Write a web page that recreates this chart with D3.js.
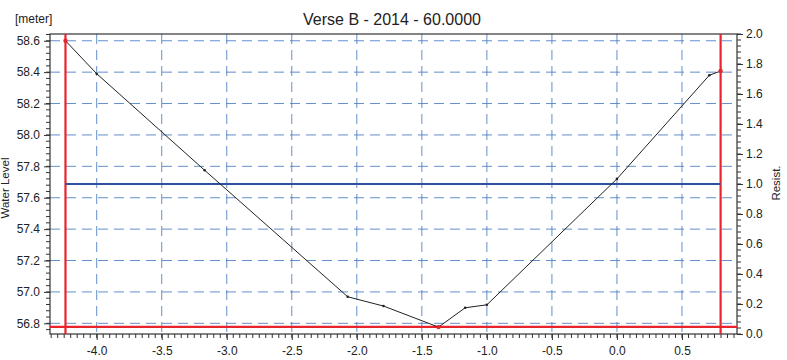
<!DOCTYPE html>
<html>
<head>
<meta charset="utf-8">
<script src="https://cdn.jsdelivr.net/npm/d3@7"></script>
<style>
  body { margin: 0; background: #fff; }
  svg { display: block; font-family: "Liberation Sans", Arial, sans-serif; }
  .tick text { font-size: 12px; fill: #222; }
</style>
</head>
<body>
<div id="chart"></div>
<script>
// profile points: distance -> water level
const distance = [-4.24, -4.0, -3.17, -2.07, -1.795, -1.372, -1.167, -1.0, 0.0, 0.71, 0.797];
const waterLevel = [58.6, 58.39, 57.775, 56.969, 56.91, 56.776, 56.899, 56.918, 57.72, 58.38, 58.407];
const redPoints = [0, 5, 10];

const xTicks = [-4.0, -3.5, -3.0, -2.5, -2.0, -1.5, -1.0, -0.5, 0.0, 0.5];
const yTicks = [56.8, 57.0, 57.2, 57.4, 57.6, 57.8, 58.0, 58.2, 58.4, 58.6];
const rTicks = [0.0, 0.2, 0.4, 0.6, 0.8, 1.0, 1.2, 1.4, 1.6, 1.8, 2.0];

const leftBound = -4.24;
const rightBound = 0.797;
const bottomLevel = 56.778;
const resistLevel = 1.0;

const title = "Verse B - 2014 - 60.0000";

const w = 787, h = 360;
const m = { top: 34, right: 50, bottom: 26, left: 50 };

const x = d3.scaleLinear().domain([-4.359, 0.923]).range([m.left, w - m.right]);
const y = d3.scaleLinear().domain([56.732, 58.643]).range([h - m.bottom, m.top]);
const yr = d3.scaleLinear().domain([0, 2]).range([h - m.bottom, m.top]);

const svg = d3.select('#chart').append('svg').attr('width', w).attr('height', h);

const x0 = m.left, x1 = w - m.right, y0 = m.top, y1 = h - m.bottom;
const grid = '#4a7cc4';

// grid
svg.append('g').selectAll('line').data(xTicks).enter().append('line')
  .attr('x1', d => x(d)).attr('x2', d => x(d)).attr('y1', y0).attr('y2', y1)
  .attr('stroke', grid).attr('stroke-dasharray', '10,6').attr('stroke-width', 1).attr('opacity', 0.85);
svg.append('g').selectAll('line').data(yTicks).enter().append('line')
  .attr('x1', x0).attr('x2', x1).attr('y1', d => y(d)).attr('y2', d => y(d))
  .attr('stroke', grid).attr('stroke-dasharray', '10,6').attr('stroke-width', 1).attr('opacity', 0.85);

// minor ticks
const xMinor = d3.range(-4.35, 0.925, 0.05);
const yMinor = d3.range(56.76, 58.64, 0.04);
const rMinor = d3.range(0, 2.001, 0.04);

svg.append('g').selectAll('line').data(xMinor).enter().append('line')
  .attr('x1', d => x(d)).attr('x2', d => x(d)).attr('y1', y1).attr('y2', y1 + 4)
  .attr('stroke', '#333');
svg.append('g').selectAll('line').data(yMinor).enter().append('line')
  .attr('x1', x0 - 4).attr('x2', x0).attr('y1', d => y(d)).attr('y2', d => y(d))
  .attr('stroke', '#333');
svg.append('g').selectAll('line').data(rMinor).enter().append('line')
  .attr('x1', x1).attr('x2', x1 + 4).attr('y1', d => yr(d)).attr('y2', d => yr(d))
  .attr('stroke', '#333');

// axes
const xAxis = d3.axisBottom(x).tickValues(xTicks).tickFormat(d3.format('.1f')).tickSize(6).tickPadding(6);
const yAxis = d3.axisLeft(y).tickValues(yTicks).tickFormat(d3.format('.1f')).tickSize(6).tickPadding(4);
const rAxis = d3.axisRight(yr).tickValues(rTicks).tickFormat(d3.format('.1f')).tickSize(6).tickPadding(3);

svg.append('g').attr('transform', `translate(0,${y1})`).call(xAxis).call(g => g.select('.domain').remove());
svg.append('g').attr('transform', `translate(${x0},0)`).call(yAxis).call(g => g.select('.domain').remove());
svg.append('g').attr('transform', `translate(${x1},0)`).call(rAxis).call(g => g.select('.domain').remove());
svg.selectAll('.tick line').attr('stroke', '#333');
svg.selectAll('.tick text').text(function() { return this.textContent.replace('−', '-'); });

// frame
svg.append('rect').attr('x', x0).attr('y', y0).attr('width', x1 - x0).attr('height', y1 - y0)
  .attr('fill', 'none').attr('stroke', '#333').attr('stroke-width', 1.2);

// red bounds
const red = '#e8242c';
svg.append('line').attr('x1', x0).attr('x2', x1).attr('y1', y(bottomLevel)).attr('y2', y(bottomLevel))
  .attr('stroke', red).attr('stroke-width', 2.2);
[leftBound, rightBound].forEach(v => {
  svg.append('line').attr('x1', x(v)).attr('x2', x(v)).attr('y1', y0).attr('y2', y1)
    .attr('stroke', red).attr('stroke-width', 2.2);
});

// resistivity line
svg.append('line').attr('x1', x(leftBound)).attr('x2', x(rightBound))
  .attr('y1', yr(resistLevel)).attr('y2', yr(resistLevel))
  .attr('stroke', '#2f52a0').attr('stroke-width', 2);

// profile line
const pts = distance.map((d, i) => [d, waterLevel[i]]);
svg.append('path').datum(pts)
  .attr('d', d3.line().x(d => x(d[0])).y(d => y(d[1])))
  .attr('fill', 'none').attr('stroke', '#222').attr('stroke-width', 1);
svg.append('g').selectAll('circle').data(pts).enter().append('circle')
  .attr('cx', d => x(d[0])).attr('cy', d => y(d[1]))
  .attr('r', (d, i) => redPoints.includes(i) ? 2.2 : 1.3)
  .attr('fill', (d, i) => redPoints.includes(i) ? red : '#222');

// texts
svg.append('text').attr('x', 392).attr('y', 25).attr('text-anchor', 'middle')
  .attr('font-size', 16).attr('fill', '#222').text(title);
svg.append('text').attr('x', 15).attr('y', 23).attr('font-size', 12).attr('fill', '#222').text('[meter]');
svg.append('text').attr('transform', 'translate(8.5,188) rotate(-90)').attr('text-anchor', 'middle')
  .attr('font-size', 11.5).attr('fill', '#222').text('Water Level');
svg.append('text').attr('transform', 'translate(780,183) rotate(-90)').attr('text-anchor', 'middle')
  .attr('font-size', 11.5).attr('fill', '#222').text('Resist.');
</script>
</body>
</html>
